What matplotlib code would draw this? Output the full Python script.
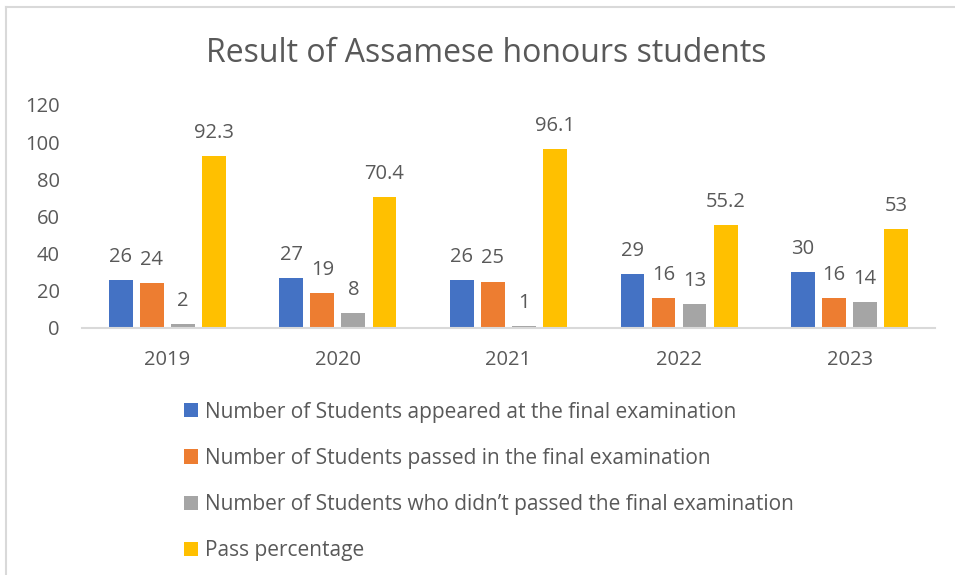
import numpy as np
import matplotlib.pyplot as plt
from matplotlib.lines import Line2D

plt.rcParams['font.family'] = ['Open Sans', 'DejaVu Sans']

# data
years = ['2019', '2020', '2021', '2022', '2023']
appeared = [26, 27, 26, 29, 30]
passed = [24, 19, 25, 16, 16]
failed = [2, 8, 1, 13, 14]
pass_pct = [92.3, 70.4, 96.1, 55.2, 53]

series = [
    ('Number of Students appeared at the final examination', appeared, '#4472C4'),
    ('Number of Students passed in the final examination', passed, '#ED7D31'),
    ('Number of Students who didn\u2019t passed the final examination', failed, '#A5A5A5'),
    ('Pass percentage', pass_pct, '#FFC000'),
]

txt = '#595959'

fig = plt.figure(figsize=(9.55, 5.75), dpi=100)
ax = fig.add_axes([0.0859, 0.4296, 0.893, 0.3878])

x = np.arange(len(years))
w = 0.14
step = 0.182
for i, (name, vals, col) in enumerate(series):
    pos = x + (i - 1.5) * step
    bars = ax.bar(pos, vals, w, color=col, label=name)
    for b, v in zip(bars, vals):
        ax.annotate(f'{v:g}', (b.get_x() + b.get_width() / 2, b.get_height()),
                    xytext=(0, 13), textcoords='offset points',
                    ha='center', va='baseline', fontsize=14.5, color=txt)

ax.set_xlim(-0.5, len(years) - 0.5)
ax.set_ylim(0, 120)
ax.set_yticks(range(0, 121, 20))
ax.set_xticks(x)
ax.set_xticklabels(years)
ax.tick_params(length=0, labelsize=14.5, colors=txt)
ax.tick_params(axis='y', pad=16)
ax.tick_params(axis='x', pad=16)
for s in ['top', 'right', 'left']:
    ax.spines[s].set_visible(False)
ax.spines['bottom'].set_color('#D9D9D9')
ax.spines['bottom'].set_linewidth(1.5)

fig.text(0.509, 0.907, 'Result of Assamese honours students', ha='center', va='center',
         fontsize=23, color=txt)

leg = fig.legend(loc='upper left', bbox_to_anchor=(0.1927, 0.3017), frameon=False,
                 fontsize=15, labelcolor=txt, handlelength=0.67, handleheight=0.67,
                 handletextpad=0.34, labelspacing=1.21, borderaxespad=0, borderpad=0)

# outer chart frame (clipped at bottom/right)
fig.add_artist(Line2D([0.006, 1.0], [0.9885, 0.9885], color='#D9D9D9', lw=1.5))
fig.add_artist(Line2D([0.006, 0.006], [0.0, 0.9885], color='#D9D9D9', lw=1.5))

fig.savefig('out.png', dpi=100)
